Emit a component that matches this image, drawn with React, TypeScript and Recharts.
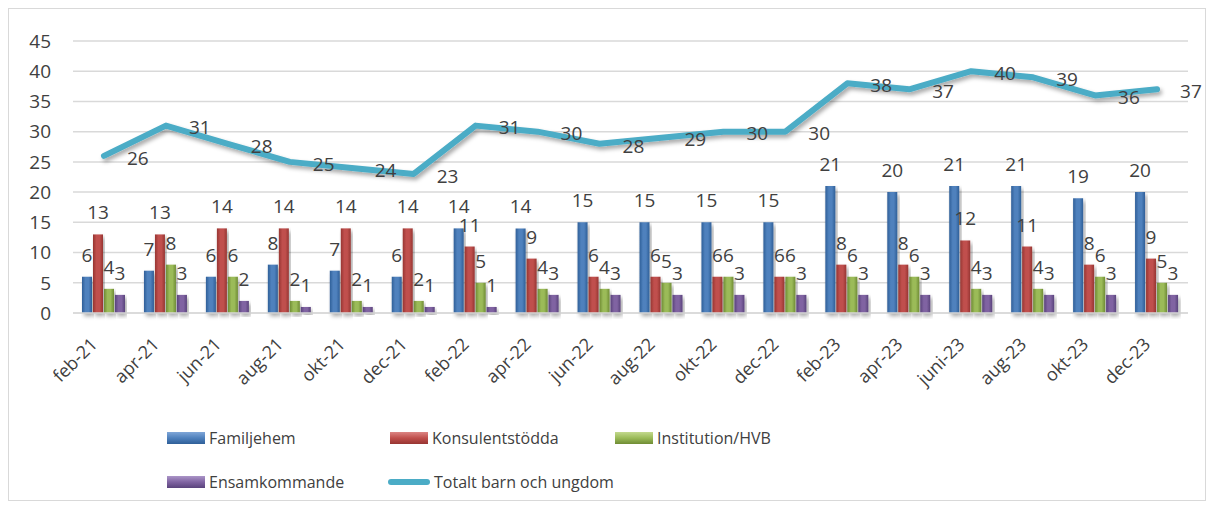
import React from "react";
import {
  Bar,
  CartesianGrid,
  ComposedChart,
  LabelList,
  Line,
  XAxis,
  YAxis,
} from "recharts";

const months = [
  "feb-21", "apr-21", "jun-21", "aug-21", "okt-21", "dec-21",
  "feb-22", "apr-22", "jun-22", "aug-22", "okt-22", "dec-22",
  "feb-23", "apr-23", "juni-23", "aug-23", "okt-23", "dec-23",
];
const familjehem = [6, 7, 6, 8, 7, 6, 14, 14, 15, 15, 15, 15, 21, 20, 21, 21, 19, 20];
const konsulentstodda = [13, 13, 14, 14, 14, 14, 11, 9, 6, 6, 6, 6, 8, 8, 12, 11, 8, 9];
const institution = [4, 8, 6, 2, 2, 2, 5, 4, 4, 5, 6, 6, 6, 6, 4, 4, 6, 5];
const ensamkommande = [3, 3, 2, 1, 1, 1, 1, 3, 3, 3, 3, 3, 3, 3, 3, 3, 3, 3];
const totalt = [26, 31, 28, 25, 24, 23, 31, 30, 28, 29, 30, 30, 38, 37, 40, 39, 36, 37];
const yTicks = [0, 5, 10, 15, 20, 25, 30, 35, 40, 45];

const data = months.map((month, i) => ({
  month,
  familjehem: familjehem[i],
  konsulentstodda: konsulentstodda[i],
  institution: institution[i],
  ensamkommande: ensamkommande[i],
  totalt: totalt[i],
}));

const FONT = "'Open Sans', sans-serif";
const TEXT = "#404040";

// [id, dark, mid, light]
const barColors: Array<[string, string, string, string]> = [
  ["gBlue", "#2f5f98", "#4f81bd", "#7fa6d8"],
  ["gRed", "#973532", "#c0504d", "#dc8583"],
  ["gGreen", "#6f8c34", "#9bbb59", "#c3d98e"],
  ["gPurple", "#5a437c", "#8064a2", "#ab95c8"],
];

const series = [
  { key: "familjehem", name: "Familjehem", grad: "gBlue" },
  { key: "konsulentstodda", name: "Konsulentstödda", grad: "gRed" },
  { key: "institution", name: "Institution/HVB", grad: "gGreen" },
  { key: "ensamkommande", name: "Ensamkommande", grad: "gPurple" },
];

const MonthTick = (props: any) => {
  const { x, y, payload } = props;
  return (
    <g transform={`translate(${x - 10},${y + 20})`}>
      <text
        transform="rotate(-45)"
        textAnchor="end"
        dy="0.35em"
        fill={TEXT}
        fontSize={18}
        fontFamily={FONT}
      >
        {payload.value}
      </text>
    </g>
  );
};

const BarIcon = ({ c }: { c: [string, string, string, string] }) => (
  <svg width={38} height={12} style={{ display: "block" }}>
    <defs>
      <linearGradient id={`leg-${c[0]}`} x1="0" y1="0" x2="0" y2="1">
        <stop offset="0%" stopColor={c[3]} />
        <stop offset="50%" stopColor={c[2]} />
        <stop offset="100%" stopColor={c[1]} />
      </linearGradient>
    </defs>
    <rect x={0} y={0} width={38} height={12} fill={`url(#leg-${c[0]})`} />
  </svg>
);

const LineIcon = () => (
  <svg width={42} height={12} style={{ display: "block" }}>
    <line x1={3} y1={6} x2={39} y2={6} stroke="#4BACC6" strokeWidth={6} strokeLinecap="round" />
  </svg>
);

const legendItem = (left: number, top: number, icon: React.ReactNode, label: string) => (
  <div
    key={label}
    style={{
      position: "absolute",
      left,
      top,
      display: "flex",
      alignItems: "center",
      gap: 4,
      fontFamily: FONT,
      fontSize: 16,
      color: TEXT,
      whiteSpace: "nowrap",
    }}
  >
    {icon}
    <span>{label}</span>
  </div>
);

export default function App() {
  return (
    <div
      style={{
        position: "relative",
        width: 1198,
        height: 493,
        border: "1px solid #d9d9d9",
        boxSizing: "border-box",
        background: "#fff",
      }}
    >
      <div style={{ position: "absolute", left: 0, top: 0 }}>
        <ComposedChart
          width={1196}
          height={400}
          data={data}
          margin={{ top: 32, right: 17, bottom: 0, left: 0 }}
          barSize={10}
          barGap={1}
        >
          <defs>
            {barColors.map((c) => (
              <linearGradient key={c[0]} id={c[0]} x1="0" y1="0" x2="1" y2="0">
                <stop offset="0%" stopColor={c[1]} />
                <stop offset="35%" stopColor={c[2]} />
                <stop offset="65%" stopColor={c[2]} />
                <stop offset="100%" stopColor={c[1]} />
              </linearGradient>
            ))}
            <filter id="shadow" x="-10%" y="-20%" width="130%" height="150%">
              <feDropShadow dx={2} dy={3} stdDeviation={2} floodColor="#000" floodOpacity={0.35} />
            </filter>
          </defs>
          <CartesianGrid vertical={false} stroke="#d9d9d9" strokeWidth={1.5} />
          <XAxis
            dataKey="month"
            interval={0}
            height={96}
            tickLine={false}
            axisLine={{ stroke: "#d9d9d9", strokeWidth: 1.5 }}
            tick={<MonthTick />}
          />
          <YAxis
            width={64}
            domain={[0, 45]}
            ticks={yTicks}
            interval={0}
            tickLine={false}
            axisLine={false}
            tickMargin={16}
            tick={{ fill: TEXT, fontSize: 19, fontFamily: FONT }}
          />
          {series.map((s) => (
            <Bar
              key={s.key}
              dataKey={s.key}
              name={s.name}
              fill={`url(#${s.grad})`}
              filter="url(#shadow)"
              isAnimationActive={false}
            >
              <LabelList
                dataKey={s.key}
                position="top"
                offset={15}
                fill={TEXT}
                fontSize={19}
                fontFamily={FONT}
              />
            </Bar>
          ))}
          <Line
            type="linear"
            dataKey="totalt"
            name="Totalt barn och ungdom"
            stroke="#4BACC6"
            strokeWidth={6}
            strokeLinecap="round"
            strokeLinejoin="round"
            dot={false}
            activeDot={false}
            filter="url(#shadow)"
            isAnimationActive={false}
          >
            <LabelList
              dataKey="totalt"
              position="right"
              offset={23}
              dy={2}
              fill={TEXT}
              fontSize={19}
              fontFamily={FONT}
            />
          </Line>
        </ComposedChart>
      </div>
      {legendItem(158, 418, <BarIcon c={barColors[0]} />, "Familjehem")}
      {legendItem(381, 418, <BarIcon c={barColors[1]} />, "Konsulentstödda")}
      {legendItem(606, 418, <BarIcon c={barColors[2]} />, "Institution/HVB")}
      {legendItem(158, 462, <BarIcon c={barColors[3]} />, "Ensamkommande")}
      {legendItem(379, 462, <LineIcon />, "Totalt barn och ungdom")}
    </div>
  );
}
